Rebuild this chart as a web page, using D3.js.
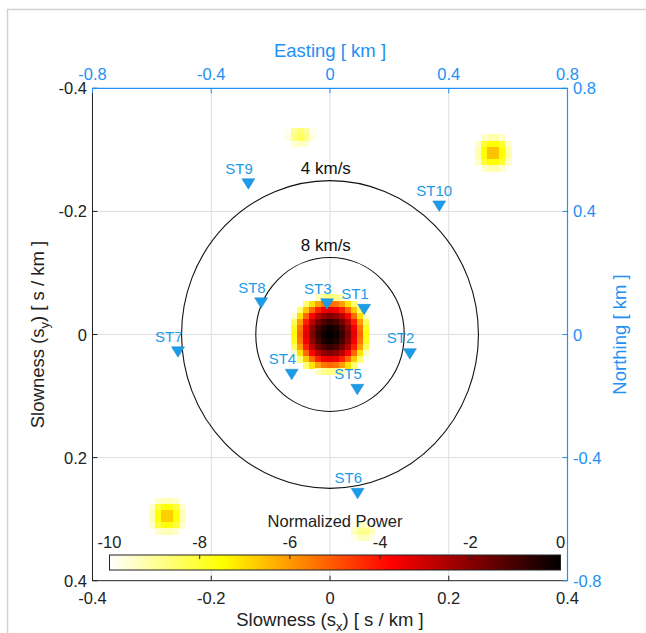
<!DOCTYPE html>
<html>
<head>
<meta charset="utf-8">
<script src="https://cdn.jsdelivr.net/npm/d3@7"></script>
<style>
  html, body { margin: 0; padding: 0; background: #fff; }
  svg { display: block; font-family: "Liberation Sans", Arial, Helvetica, sans-serif; }
</style>
</head>
<body>
<svg id="chart" width="646" height="633"></svg>
<script>
// ---- axis ticks ----
const sxTicks = [-0.4, -0.2, 0, 0.2, 0.4];
const syTicks = [-0.4, -0.2, 0, 0.2, 0.4];
const eastTicks = [-0.8, -0.4, 0, 0.4, 0.8];
const northTicks = [-0.8, -0.4, 0, 0.4, 0.8];
const powerTicks = [-10, -8, -6, -4, -2, 0];

// ---- apparent velocity rings (km/s) ----
const ringSpeeds = [4, 8];

// ---- array stations (km) ----
const stationNames = ["ST1", "ST2", "ST3", "ST4", "ST5", "ST6", "ST7", "ST8", "ST9", "ST10"];
const stationEast  = [0.115, 0.269, -0.010, -0.129, 0.092, 0.093, -0.512, -0.232, -0.275, 0.368];
const stationNorth = [0.081, -0.063, 0.099, -0.130, -0.179, -0.517, -0.057, 0.102, 0.489, 0.417];

// ---- normalized beam power [dB] on a 0.01 s/km slowness grid ----
// each patch: first cell (sx, sy) and rows of values (rows go along sy, columns along sx)
const cellStep = 0.01;

const mainLobeOrigin = [-0.06, -0.06];
const mainLobe = [
  [-10, -10, -10, -10, -9.3, -8.9, -8.7, -8.9, -9.3, -10, -10, -10, -10],
  [-10, -10, -8.6, -7.1, -6.1, -5.5, -5.3, -5.5, -6.1, -7.1, -8.6, -10, -10],
  [-10, -8.6, -6.7, -5.3, -4.2, -3.6, -3.4, -3.6, -4.2, -5.3, -6.7, -8.6, -10],
  [-9.5, -7.1, -5.3, -3.8, -2.7, -2.1, -1.9, -2.1, -2.7, -3.8, -5.3, -7.1, -9.5],
  [-8.4, -6.1, -4.2, -2.7, -1.7, -1.1, -0.8, -1.1, -1.7, -2.7, -4.2, -6.1, -8.4],
  [-7.8, -5.5, -3.6, -2.1, -1.1, -0.4, -0.2, -0.4, -1.1, -2.1, -3.6, -5.5, -7.8],
  [-7.6, -5.3, -3.4, -1.9, -0.8, -0.2, 0.0, -0.2, -0.8, -1.9, -3.4, -5.3, -7.6],
  [-7.8, -5.5, -3.6, -2.1, -1.1, -0.4, -0.2, -0.4, -1.1, -2.1, -3.6, -5.5, -7.8],
  [-8.4, -6.1, -4.2, -2.7, -1.7, -1.1, -0.8, -1.1, -1.7, -2.7, -4.2, -6.1, -8.4],
  [-9.5, -7.1, -5.3, -3.8, -2.7, -2.1, -1.9, -2.1, -2.7, -3.8, -5.3, -7.1, -9.5],
  [-10, -8.6, -6.7, -5.3, -4.2, -3.6, -3.4, -3.6, -4.2, -5.3, -6.7, -8.6, -10],
  [-10, -10, -8.6, -7.1, -6.1, -5.5, -5.3, -5.5, -6.1, -7.1, -8.6, -10, -10],
  [-10, -10, -10, -10, -9.3, -8.9, -8.7, -8.9, -9.3, -10, -10, -10, -10]
];

const sideLobeNEOrigin = [0.25, -0.32];
const sideLobeNE = [
  [-10, -9.5, -9.2, -9.2, -9.5, -10],
  [-9.5, -8.0, -7.5, -7.5, -8.0, -9.5],
  [-9.2, -7.5, -6.6, -6.6, -7.5, -9.2],
  [-9.2, -7.5, -6.6, -6.6, -7.5, -9.2],
  [-9.5, -8.0, -7.5, -7.5, -8.0, -9.5],
  [-10, -9.5, -9.2, -9.2, -9.5, -10]
];

const sideLobeSWOrigin = [-0.30, 0.27];
const sideLobeSW = [
  [-10, -9.5, -9.3, -9.3, -9.5, -10],
  [-9.5, -8.1, -7.6, -7.6, -8.1, -9.5],
  [-9.3, -7.6, -6.8, -6.8, -7.6, -9.3],
  [-9.3, -7.6, -6.8, -6.8, -7.6, -9.3],
  [-9.5, -8.1, -7.6, -7.6, -8.1, -9.5],
  [-10, -9.5, -9.3, -9.3, -9.5, -10]
];

const sideLobeNOrigin = [-0.07, -0.33];
const sideLobeN = [
  [-9.8, -9.0, -8.6, -9.0, -9.8],
  [-9.7, -8.8, -8.4, -8.8, -9.7],
  [-10, -9.6, -9.4, -9.6, -10]
];

const sideLobeSOrigin = [0.04, 0.31];
const sideLobeS = [
  [-9.8, -9.4, -9.4, -9.8],
  [-9.4, -8.9, -8.9, -9.4],
  [-9.8, -9.4, -9.4, -9.8]
];

const powerPatches = [
  { origin: mainLobeOrigin, rows: mainLobe },
  { origin: sideLobeNEOrigin, rows: sideLobeNE },
  { origin: sideLobeSWOrigin, rows: sideLobeSW },
  { origin: sideLobeNOrigin, rows: sideLobeN },
  { origin: sideLobeSOrigin, rows: sideLobeS }
];

// ---- layout ----
const plot = { left: 92.5, right: 567.5, top: 88.3, bottom: 580.7 };
const axisBlue = "#2290f5";
const markerBlue = "#1c9be8";
const gridGrey = "#dedede";
const tickFont = 16.5, titleFont = 18.5;
const fmt = d => String(d);   // plain hyphen-minus labels

const svg = d3.select("#chart");

const x = d3.scaleLinear().domain([-0.4, 0.4]).range([plot.left, plot.right]);
const y = d3.scaleLinear().domain([-0.4, 0.4]).range([plot.top, plot.bottom]);
const east = d3.scaleLinear().domain([-0.8, 0.8]).range([plot.left, plot.right]);
const north = d3.scaleLinear().domain([-0.8, 0.8]).range([plot.bottom, plot.top]);

// reversed "hot" colormap: 0 dB black -> red -> yellow -> -10 dB white
const clamp01 = v => Math.max(0, Math.min(1, v));
function hotReversed(db) {
  const u = clamp01(-db / 10);
  const r = clamp01(u / 0.375);
  const g = clamp01((u - 0.375) / 0.375);
  const b = clamp01((u - 0.75) / 0.25);
  return d3.rgb(r * 255, g * 255, b * 255).formatHex();
}

// figure frame
svg.append("rect")
  .attr("x", 7.5).attr("y", 9.5).attr("width", 700).attr("height", 700)
  .attr("fill", "none").attr("stroke", "#d2d2d2").attr("stroke-width", 1.5);

// grid
const grid = svg.append("g");
grid.selectAll("line.gx").data(sxTicks.filter(t => Math.abs(t) < 0.39)).join("line")
  .attr("x1", d => x(d)).attr("x2", d => x(d))
  .attr("y1", plot.top).attr("y2", plot.bottom)
  .attr("stroke", gridGrey).attr("stroke-width", 1);
grid.selectAll("line.gy").data(syTicks.filter(t => Math.abs(t) < 0.39)).join("line")
  .attr("y1", d => y(d)).attr("y2", d => y(d))
  .attr("x1", plot.left).attr("x2", plot.right)
  .attr("stroke", gridGrey).attr("stroke-width", 1);

// beam power cells
const cells = [];
powerPatches.forEach(p => {
  p.rows.forEach((row, ri) => {
    row.forEach((v, ci) => {
      if (v > -10) cells.push({ sx: p.origin[0] + ci * cellStep, sy: p.origin[1] + ri * cellStep, v });
    });
  });
});
svg.append("g").attr("shape-rendering", "crispEdges")
  .selectAll("rect").data(cells).join("rect")
  .attr("x", d => x(d.sx - cellStep / 2))
  .attr("y", d => y(d.sy - cellStep / 2))
  .attr("width", d => x(d.sx + cellStep / 2) - x(d.sx - cellStep / 2) + 0.5)
  .attr("height", d => y(d.sy + cellStep / 2) - y(d.sy - cellStep / 2) + 0.5)
  .attr("fill", d => hotReversed(d.v));

// velocity rings: slowness radius = 1 / speed
const rings = svg.append("g");
ringSpeeds.forEach(v => {
  const s = 1 / v;
  rings.append("ellipse")
    .attr("cx", x(0)).attr("cy", y(0))
    .attr("rx", x(s) - x(0)).attr("ry", y(s) - y(0))
    .attr("fill", "none").attr("stroke", "#111").attr("stroke-width", 1.1);
  rings.append("text")
    .attr("x", x(-0.007)).attr("y", y(-s) - 7)
    .attr("text-anchor", "middle").attr("font-size", 17).attr("fill", "#111")
    .text(`${v} km/s`);
});

// left axis (slowness s_y)
const axL = svg.append("g");
axL.append("line").attr("x1", plot.left).attr("x2", plot.left)
  .attr("y1", plot.top).attr("y2", plot.bottom).attr("stroke", "#222").attr("stroke-width", 1);
axL.selectAll("line.t").data(syTicks).join("line")
  .attr("x1", plot.left).attr("x2", plot.left + 5)
  .attr("y1", d => y(d)).attr("y2", d => y(d)).attr("stroke", "#222");
axL.selectAll("text").data(syTicks).join("text")
  .attr("x", plot.left - 5.5).attr("y", d => y(d) + 6)
  .attr("text-anchor", "end").attr("font-size", tickFont).attr("fill", "#222")
  .text(fmt);

// bottom axis (slowness s_x)
const axB = svg.append("g");
axB.append("line").attr("x1", plot.left).attr("x2", plot.right)
  .attr("y1", plot.bottom).attr("y2", plot.bottom).attr("stroke", "#222");
axB.selectAll("line.t").data(sxTicks).join("line")
  .attr("x1", d => x(d)).attr("x2", d => x(d))
  .attr("y1", plot.bottom).attr("y2", plot.bottom - 5).attr("stroke", "#222");
axB.selectAll("text").data(sxTicks).join("text")
  .attr("x", d => x(d)).attr("y", plot.bottom + 23)
  .attr("text-anchor", "middle").attr("font-size", tickFont).attr("fill", "#222")
  .text(fmt);

// top axis (easting)
const axT = svg.append("g");
axT.append("line").attr("x1", plot.left).attr("x2", plot.right)
  .attr("y1", plot.top).attr("y2", plot.top).attr("stroke", axisBlue).attr("stroke-width", 1.2);
axT.selectAll("line.t").data(eastTicks).join("line")
  .attr("x1", d => east(d)).attr("x2", d => east(d))
  .attr("y1", plot.top).attr("y2", plot.top + 5).attr("stroke", axisBlue);
axT.selectAll("text").data(eastTicks).join("text")
  .attr("x", d => east(d)).attr("y", plot.top - 8)
  .attr("text-anchor", "middle").attr("font-size", tickFont).attr("fill", axisBlue)
  .text(fmt);

// right axis (northing)
const axR = svg.append("g");
axR.append("line").attr("x1", plot.right).attr("x2", plot.right)
  .attr("y1", plot.top).attr("y2", plot.bottom).attr("stroke", axisBlue).attr("stroke-width", 1.2);
axR.selectAll("line.t").data(northTicks).join("line")
  .attr("x1", plot.right).attr("x2", plot.right - 5)
  .attr("y1", d => north(d)).attr("y2", d => north(d)).attr("stroke", axisBlue);
axR.selectAll("text").data(northTicks).join("text")
  .attr("x", plot.right + 5.5).attr("y", d => north(d) + 6)
  .attr("text-anchor", "start").attr("font-size", tickFont).attr("fill", axisBlue)
  .text(fmt);

// axis titles
const tb = svg.append("text").attr("x", x(0)).attr("y", 626)
  .attr("text-anchor", "middle").attr("font-size", titleFont).attr("fill", "#222");
tb.append("tspan").text("Slowness (s");
tb.append("tspan").attr("font-size", 13).attr("dy", 5).text("x");
tb.append("tspan").attr("dy", -5).text(") [ s / km ]");

const tl = svg.append("text").attr("transform", `translate(44,${y(0)}) rotate(-90)`)
  .attr("text-anchor", "middle").attr("font-size", titleFont).attr("fill", "#222");
tl.append("tspan").text("Slowness (s");
tl.append("tspan").attr("font-size", 13).attr("dy", 5).text("y");
tl.append("tspan").attr("dy", -5).text(") [ s / km ]");

svg.append("text").attr("x", east(0)).attr("y", 57)
  .attr("text-anchor", "middle").attr("font-size", titleFont).attr("fill", axisBlue)
  .text("Easting [ km ]");

svg.append("text").attr("transform", `translate(626,${north(0)}) rotate(-90)`)
  .attr("text-anchor", "middle").attr("font-size", titleFont).attr("fill", axisBlue)
  .text("Northing [ km ]");

// stations: downward triangles with labels above-left
const triW = 13, triH = 10.5;
const triPath = `M${-triW / 2},${-triH / 2}L${triW / 2},${-triH / 2}L0,${triH / 2}Z`;
const st = svg.append("g");
stationNames.forEach((name, i) => {
  const px = east(stationEast[i]), py = north(stationNorth[i]);
  st.append("path").attr("d", triPath)
    .attr("transform", `translate(${px},${py})`)
    .attr("fill", markerBlue).attr("stroke", "#1886cf").attr("stroke-width", 0.5);
  st.append("text").attr("x", px - 23).attr("y", py - 10.5)
    .attr("font-size", 15).attr("fill", markerBlue).text(name);
});

// colorbar
const cb = { left: 109.5, right: 560.5, top: 555, bottom: 570 };
const cx = d3.scaleLinear().domain([-10, 0]).range([cb.left, cb.right]);
const defs = svg.append("defs");
const grad = defs.append("linearGradient").attr("id", "powerGrad")
  .attr("x1", "0%").attr("x2", "100%").attr("y1", "0%").attr("y2", "0%");
d3.range(0, 65).forEach(k => {
  const v = -10 + k * 10 / 64;
  grad.append("stop").attr("offset", `${(k / 64) * 100}%`).attr("stop-color", hotReversed(v));
});
svg.append("rect").attr("x", cb.left).attr("y", cb.top)
  .attr("width", cb.right - cb.left).attr("height", cb.bottom - cb.top)
  .attr("fill", "url(#powerGrad)").attr("stroke", "#222").attr("stroke-width", 1);
svg.append("g").selectAll("line").data(powerTicks).join("line")
  .attr("x1", d => cx(d)).attr("x2", d => cx(d))
  .attr("y1", cb.top).attr("y2", cb.top + 4).attr("stroke", "#222");
svg.append("g").selectAll("text").data(powerTicks).join("text")
  .attr("x", d => cx(d)).attr("y", cb.top - 7)
  .attr("text-anchor", "middle").attr("font-size", tickFont).attr("fill", "#222")
  .text(fmt);
svg.append("text").attr("x", (cb.left + cb.right) / 2).attr("y", 527)
  .attr("text-anchor", "middle").attr("font-size", tickFont).attr("fill", "#222")
  .text("Normalized Power");
</script>
</body>
</html>
